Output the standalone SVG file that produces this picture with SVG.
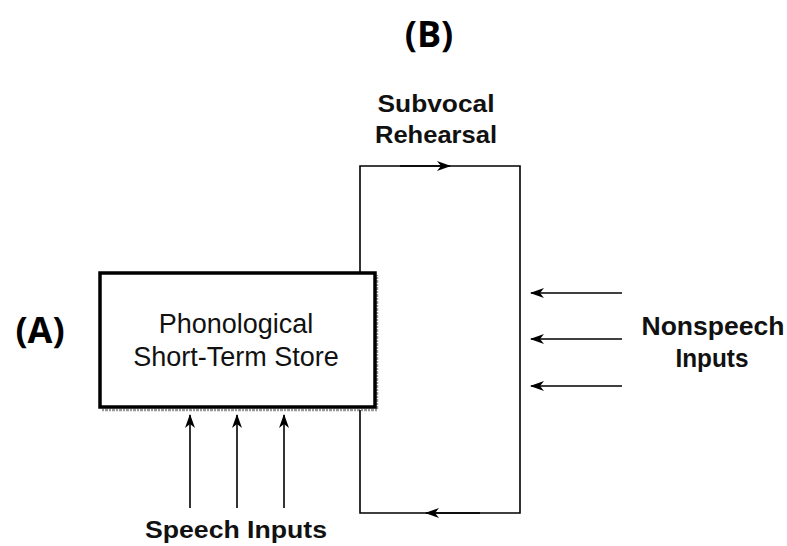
<svg xmlns="http://www.w3.org/2000/svg" width="787" height="546" viewBox="0 0 787 546">
<style>
.ln{stroke:#000;stroke-width:1.6;fill:none}
.lbl{font-family:"Liberation Sans",Arial,sans-serif;font-weight:bold;font-size:24px;fill:#111;text-anchor:middle}
.reg{font-family:"Liberation Sans",Arial,sans-serif;font-size:27px;fill:#111;text-anchor:middle}
.big{font-family:"Open Sans","DejaVu Sans",sans-serif;font-weight:bold;font-size:36px;fill:#000;text-anchor:middle}
.shadow{stroke:#999;stroke-width:2.5;stroke-dasharray:2 1 3 1;fill:none}
</style>
<defs>
<marker id="ah" viewBox="0 0 14 10" refX="13" refY="5" markerWidth="14" markerHeight="10" markerUnits="userSpaceOnUse" orient="auto">
<path d="M0,0 L14,5 L0,10 L4,5 Z" fill="#000"/>
</marker>
</defs>
<rect width="787" height="546" fill="#fff"/>
<text class="big" x="429" y="47">(B)</text>
<text class="big" x="40" y="343">(A)</text>
<g id="store">
<path class="shadow" d="M102,410 H377 V275"/>
<rect x="100" y="273" width="275" height="134" fill="#fff" stroke="#000" stroke-width="3.5"/>
<text class="reg" x="236" y="333">Phonological</text>
<text class="reg" x="236" y="366">Short-Term Store</text>
</g>
<g id="rehearsal">
<text class="lbl" x="436" y="112" textLength="117" lengthAdjust="spacingAndGlyphs">Subvocal</text>
<text class="lbl" x="436" y="143" textLength="122" lengthAdjust="spacingAndGlyphs">Rehearsal</text>
</g>
<g id="nonspeech">
<text class="lbl" x="713" y="335" style="font-size:26px" textLength="143" lengthAdjust="spacingAndGlyphs">Nonspeech</text>
<text class="lbl" x="712" y="367" style="font-size:26px" textLength="73" lengthAdjust="spacingAndGlyphs">Inputs</text>
</g>
<g id="speech">
<text class="lbl" x="236" y="538" style="font-size:23px" textLength="182" lengthAdjust="spacingAndGlyphs">Speech Inputs</text>
</g>
<g id="connectors">
<path class="ln" d="M360,273 V166 H520 V513 H360 V410"/>
<path class="ln" d="M400,166 H450" marker-end="url(#ah)"/>
<path class="ln" d="M480,513 H426" marker-end="url(#ah)"/>
<path class="ln" d="M622,293 H531" marker-end="url(#ah)"/>
<path class="ln" d="M622,339 H531" marker-end="url(#ah)"/>
<path class="ln" d="M622,386 H531" marker-end="url(#ah)"/>
<path class="ln" d="M190,508 V415" marker-end="url(#ah)"/>
<path class="ln" d="M237,508 V415" marker-end="url(#ah)"/>
<path class="ln" d="M284,508 V415" marker-end="url(#ah)"/>
</g>
</svg>
